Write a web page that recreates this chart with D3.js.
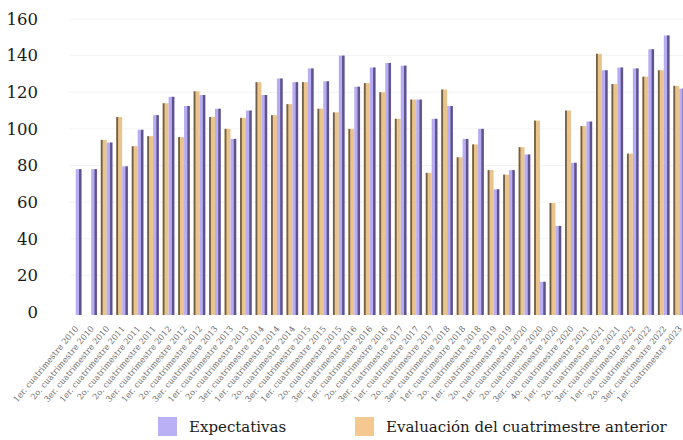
<!DOCTYPE html>
<html>
<head>
<meta charset="utf-8">
<script src="https://cdn.jsdelivr.net/npm/d3@7"></script>
<style>
  html, body { margin: 0; padding: 0; background: #ffffff; }
  svg { display: block; }
</style>
</head>
<body>
<svg id="chart" width="683" height="440"></svg>
<script>
// Periods (cuatrimestres) shown on the x axis
const periods = [
  "1er. cuatrimestre 2010", "2o. cuatrimestre 2010", "3er. cuatrimestre 2010",
  "1er. cuatrimestre 2011", "2o. cuatrimestre 2011", "2o. cuatrimestre 2011 ",
  "3er. cuatrimestre 2012", "1er. cuatrimestre 2012", "2o. cuatrimestre 2012",
  "3er. cuatrimestre 2013", "1er. cuatrimestre 2013", "2o. cuatrimestre 2013",
  "3er. cuatrimestre 2014", "1er. cuatrimestre 2014", "2o. cuatrimestre 2014",
  "3er. cuatrimestre 2015", "1er. cuatrimestre 2015", "2o. cuatrimestre 2015",
  "3er. cuatrimestre 2016", "1er. cuatrimestre 2016", "2o. cuatrimestre 2016",
  "3er. cuatrimestre 2017", "1er. cuatrimestre 2017", "2o. cuatrimestre 2017",
  "3er. cuatrimestre 2018", "1er. cuatrimestre 2018", "2o. cuatrimestre 2018",
  "1er. cuatrimestre 2019", "2o. cuatrimestre 2019",
  "1er. cuatrimestre 2020", "2o. cuatrimestre 2020", "3er. cuatrimestre 2020",
  "4o. cuatrimestre 2020",
  "1er. cuatrimestre 2021", "2o. cuatrimestre 2021", "3er. cuatrimestre 2021",
  "1er. cuatrimestre 2022", "2o. cuatrimestre 2022", "3er. cuatrimestre 2022",
  "1er. cuatrimestre 2023"
];

// Expectativas (index values)
const expectativas = [
  78, 78, 92.5, 79.5, 99.5, 107.5, 117.5, 112.5, 118.5, 111,
  94.5, 110, 118.5, 127.5, 125.5, 133, 126, 140, 123, 133.5,
  136, 134.5, 116, 105.5, 112.5, 94.5, 100, 67, 77.5, 86,
  16.5, 47, 81.5, 104, 132, 133.5, 133, 143.5, 151, 122
];

// Evaluación del cuatrimestre anterior (index values; none for the first two periods)
const evaluacion = [
  null, null, 94, 106.5, 90.5, 96, 114, 95.5, 120.5, 106.5,
  100, 106, 125.5, 107.5, 113.5, 125.5, 111, 109, 100, 125,
  120, 105.5, 116, 76, 121.5, 84.5, 91.5, 77.5, 75, 90,
  104.5, 59.5, 110, 101.5, 141, 124.5, 86.5, 128.5, 132, 123.5
];

const yTicks = [0, 20, 40, 60, 80, 100, 120, 140, 160];

const seriesNames = ["Evaluación del cuatrimestre anterior", "Expectativas"];
const legendOrder = ["Expectativas", "Evaluación del cuatrimestre anterior"];

const colors = {
  "Expectativas": { body: "#b8adf3", edge: "#4f4379", key: "#b9b0f5" },
  "Evaluación del cuatrimestre anterior": { body: "#e9c48c", edge: "#5e4c38", key: "#f4c88f" }
};

const rows = periods.map((p, i) => ({
  period: p,
  "Evaluación del cuatrimestre anterior": evaluacion[i],
  "Expectativas": expectativas[i]
}));

const svg = d3.select("#chart");
const serif = "'DejaVu Serif', serif";

const x0 = d3.scaleBand().domain(periods).range([68, 687]).paddingInner(0.24).paddingOuter(0.12);
const x1 = d3.scaleBand().domain(seriesNames).range([0, x0.bandwidth()]).padding(0);
const y = d3.scaleLinear().domain([0, 160]).range([312, 19]);

// faint horizontal guides
svg.append("g")
  .selectAll("line")
  .data(yTicks.filter(d => d > 0))
  .join("line")
  .attr("x1", 70).attr("x2", 683)
  .attr("y1", d => y(d)).attr("y2", d => y(d))
  .attr("stroke", "#f3f3f3").attr("stroke-width", 1);

// y axis labels
const yAxis = d3.axisLeft(y).tickValues(yTicks).tickSize(0).tickPadding(0);
const gy = svg.append("g").attr("transform", "translate(38,0)").call(yAxis);
gy.select(".domain").remove();
gy.selectAll("text")
  .attr("font-family", serif)
  .attr("font-size", 16.5)
  .attr("fill", "#1a1a1a");

// bars
const groups = svg.append("g")
  .selectAll("g")
  .data(rows)
  .join("g")
  .attr("transform", d => `translate(${x0(d.period)},0)`);

const barData = d => seriesNames
  .filter(k => d[k] != null)
  .map(k => ({ key: k, value: d[k] }));

groups.selectAll("rect.body")
  .data(barData)
  .join("rect")
  .attr("class", "body")
  .attr("x", d => x1(d.key))
  .attr("width", x1.bandwidth())
  .attr("y", d => y(d.value))
  .attr("height", d => y(0) - y(d.value) + 3)
  .attr("fill", d => colors[d.key].body);

// darker shaded edge on each bar
groups.selectAll("rect.edge")
  .data(barData)
  .join("rect")
  .attr("class", "edge")
  .attr("x", d => d.key === "Expectativas" ? x1(d.key) + x1.bandwidth() - 2.6 : x1(d.key))
  .attr("width", d => d.key === "Expectativas" ? 2.4 : 1.8)
  .attr("y", d => y(d.value))
  .attr("height", d => y(0) - y(d.value) + 3)
  .attr("fill", d => colors[d.key].edge)
  .attr("opacity", 0.85);

// x axis labels, rotated
const xAxis = d3.axisBottom(x0).tickSize(0).tickPadding(0).tickFormat(d => d.trim());
const gx = svg.append("g").attr("transform", "translate(0,322)").call(xAxis);
gx.select(".domain").remove();
gx.selectAll("text")
  .attr("font-family", serif)
  .attr("font-size", 8.3)
  .attr("fill", "#6a6a6a")
  .attr("text-anchor", "end")
  .attr("dy", "0.35em")
  .attr("transform", "translate(1,5) rotate(-50)");

// legend
const legend = svg.append("g");
const legendX = { "Expectativas": 158, "Evaluación del cuatrimestre anterior": 355 };
legendOrder.forEach(name => {
  legend.append("rect")
    .attr("x", legendX[name]).attr("y", 417)
    .attr("width", 19).attr("height", 19)
    .attr("fill", colors[name].key);
  legend.append("text")
    .attr("x", legendX[name] + 31).attr("y", 432)
    .attr("font-family", serif)
    .attr("font-size", 15)
    .attr("fill", "#1a1a1a")
    .text(name);
});
</script>
</body>
</html>
